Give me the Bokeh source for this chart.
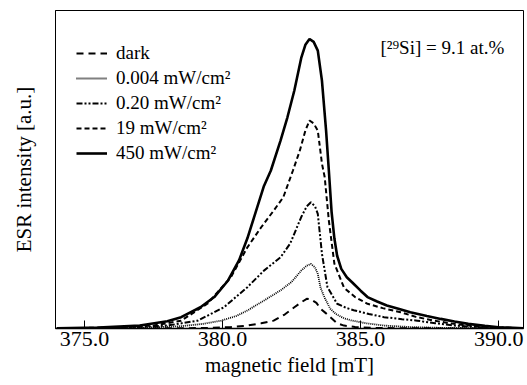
from bokeh.plotting import figure
from bokeh.models import Legend, LegendItem, Label, FixedTicker, CustomJSTickFormatter
from bokeh.embed import file_html
from bokeh.resources import INLINE

FONT = "Liberation Serif"

# ---- data (magnetic field in mT, ESR intensity in a.u.) ----
x_450 = [374.0, 375.5, 377.0, 378.0, 378.5, 379.2, 379.7, 380.2, 380.6, 380.9, 381.2, 381.5, 381.75,
         382.1, 382.35, 382.6, 382.85, 383.0, 383.15, 383.3, 383.45, 383.6, 383.75, 383.85, 383.95,
         384.05, 384.15, 384.3, 384.5, 384.7, 385.0, 385.25, 385.6, 385.95, 386.4, 386.8, 387.4,
         387.9, 388.4, 388.9, 389.5, 390.0, 390.9]
y_450 = [0.1, 0.3, 1.0, 2.5, 3.9, 7.3, 10.8, 16.5, 23.5, 31.0, 40.0, 49.0, 54.3,
         64.6, 72.6, 81.8, 93.0, 97.5, 99.5, 98.5, 95.5, 85.2, 68.0, 54.3, 40.0,
         31.0, 25.0, 20.5, 17.6, 15.8, 13.0, 10.8, 9.3, 7.9, 6.7, 5.6, 4.3,
         3.3, 2.4, 1.6, 0.9, 0.45, 0.1]

x_19 = [374.0, 376.0, 377.5, 378.5, 379.45, 380.3, 380.9, 381.4, 381.85, 382.2, 382.55, 382.8,
        383.0, 383.15, 383.3, 383.45, 383.6, 383.7, 383.85, 384.05, 384.4, 384.8, 385.25, 385.8,
        386.45, 387.0, 387.65, 388.3, 388.9, 389.6, 390.9]
y_19 = [0.1, 0.3, 1.0, 2.7, 8.5, 17.6, 27.9, 34.8, 40.5, 45.1, 54.3, 61.2,
        68.0, 71.5, 70.5, 68.0, 56.7, 52.0, 37.1, 22.3, 14.0, 10.8, 8.5, 7.0,
        5.6, 4.0, 2.7, 1.7, 1.0, 0.5, 0.1]

x_020 = [374.0, 376.5, 378.0, 379.1, 380.05, 380.9, 381.5, 382.1, 382.45, 382.85, 383.05, 383.2,
         383.35, 383.45, 383.6, 383.8, 384.15, 384.5, 384.75, 385.3, 385.85, 386.5, 387.05,
         387.7, 388.4, 389.3, 390.9]
y_020 = [0.1, 0.3, 1.0, 2.7, 7.3, 14.2, 19.9, 24.5, 29.2, 38.3, 42.0, 43.4,
         42.0, 39.4, 25.7, 14.2, 8.5, 7.0, 6.3, 5.0, 3.9, 3.2, 2.7,
         1.8, 1.0, 0.4, 0.1]

x_0004 = [374.0, 377.0, 378.5, 379.3, 379.95, 380.5, 380.9, 381.5, 382.1, 382.5, 382.85, 383.05,
          383.2, 383.35, 383.45, 383.55, 383.7, 383.9, 384.1, 384.4, 384.65, 385.2, 385.85,
          386.8, 388.0, 390.9]
y_0004 = [0.05, 0.2, 0.8, 1.6, 2.7, 4.3, 6.2, 9.6, 13.1, 16.0, 19.9, 21.6,
          22.2, 21.0, 18.8, 14.0, 10.5, 6.8, 5.0, 3.5, 2.8, 1.8, 1.0,
          0.5, 0.2, 0.05]

x_dark = [374.0, 378.0, 379.5, 380.3, 380.9, 381.4, 381.85, 382.25, 382.6, 382.85, 383.05, 383.2,
          383.4, 383.55, 383.75, 383.9, 384.15, 384.4, 384.8, 385.5, 387.0, 390.9]
y_dark = [0.0, 0.05, 0.2, 0.5, 1.0, 1.8, 2.7, 4.8, 7.3, 9.0, 10.2, 10.0,
          8.8, 6.8, 5.2, 3.9, 1.8, 1.0, 0.5, 0.2, 0.05, 0.0]

x_ticks = [375.0, 380.0, 385.0, 390.0]
labels = ["dark", "0.004 mW/cm\u00b2", "0.20 mW/cm\u00b2", "19 mW/cm\u00b2", "450 mW/cm\u00b2"]
note = "[\u00b2\u2079Si] = 9.1 at.%"
x_title = "magnetic field [mT]"
y_title = "ESR intensity [a.u.]"

p = figure(width=527, height=385, output_backend="svg", toolbar_location=None,
           x_range=(373.95, 390.9), y_range=(0, 109.3),
           min_border_left=55, min_border_right=4, min_border_top=10, min_border_bottom=57)
p.background_fill_color = "white"
p.border_fill_color = "white"
p.outline_line_color = "black"
p.outline_line_width = 1
p.xgrid.visible = False
p.ygrid.visible = False

styles = [
    (x_dark, y_dark, "7 5", 2.0),
    (x_0004, y_0004, "1 1", 1.8),
    (x_020, y_020, "6 2 2 2 2 2", 2.0),
    (x_19, y_19, "5 3", 2.0),
    (x_450, y_450, "solid", 2.6),
]
items = []
for (xs, ys, dash, lw), lab in zip(styles, labels):
    r = p.line(xs, ys, line_color="black", line_width=lw, line_dash=dash)
    items.append(LegendItem(label=lab, renderers=[r]))

legend = Legend(items=items, location=(21, 164), glyph_width=31, glyph_height=20,
                label_height=20, label_standoff=9, spacing=3, padding=0, margin=0,
                label_text_font=FONT, label_text_font_size="19px", label_text_color="black",
                border_line_alpha=0, background_fill_alpha=0)
p.add_layout(legend)

p.add_layout(Label(x=385.72, y=96.6, text=note, text_font=FONT, text_font_size="19px",
                   text_baseline="middle", text_align="left", text_color="black"))

xa = p.xaxis[0]
xa.ticker = FixedTicker(ticks=x_ticks)
xa.minor_tick_line_color = None
xa.major_tick_in = 8
xa.major_tick_out = 0
xa.major_tick_line_color = "black"
xa.axis_line_color = "black"
xa.axis_line_width = 1.5
xa.major_label_text_font = FONT
xa.major_label_text_font_size = "22px"
xa.major_label_text_color = "black"
xa.major_label_standoff = 3
xa.formatter = CustomJSTickFormatter(code="return tick.toFixed(1);")
xa.axis_label = x_title
xa.axis_label_text_font = FONT
xa.axis_label_text_font_size = "21px"
xa.axis_label_text_font_style = "normal"
xa.axis_label_text_color = "black"
xa.axis_label_text_baseline = "middle"
xa.axis_label_standoff = 4

ya = p.yaxis[0]
ya.ticker = FixedTicker(ticks=[])
ya.major_tick_line_color = None
ya.minor_tick_line_color = None
ya.major_label_text_font_size = "0px"
ya.axis_line_color = "black"
ya.axis_label = y_title
ya.axis_label_text_font = FONT
ya.axis_label_text_font_size = "21px"
ya.axis_label_text_font_style = "normal"
ya.axis_label_text_color = "black"
ya.axis_label_standoff = 20

open("out.html", "w").write(file_html(p, INLINE))
